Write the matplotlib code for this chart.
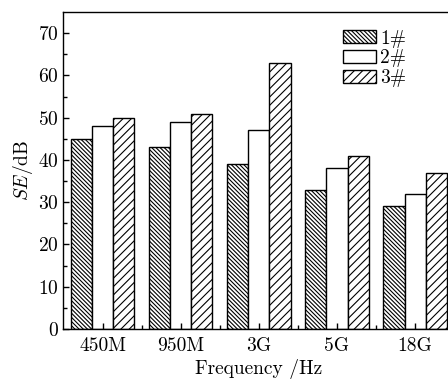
import numpy as np
import matplotlib
matplotlib.use('Agg')
import matplotlib.pyplot as plt

plt.rcParams['font.family'] = ['cmr10', 'DejaVu Serif']
plt.rcParams['mathtext.fontset'] = 'cm'
plt.rcParams['axes.formatter.use_mathtext'] = True
plt.rcParams['hatch.linewidth'] = 0.8

freqs = ['450M', '950M', '3G', '5G', '18G']
s1 = [45, 43, 39, 33, 29]
s2 = [48, 49, 47, 38, 32]
s3 = [50, 51, 63, 41, 37]

fig = plt.figure(figsize=(4.48, 3.79), dpi=100)
ax = fig.add_axes([0.1406, 0.132, 0.873, 0.836])

x = np.arange(len(freqs))
w = 0.27
ax.bar(x - w, s1, w, facecolor='white', edgecolor='black', hatch='\\' * 8, linewidth=1.0, label='1#')
ax.bar(x, s2, w, facecolor='white', edgecolor='black', linewidth=1.0, label='2#')
ax.bar(x + w, s3, w, facecolor='white', edgecolor='black', hatch='////', linewidth=1.0, label='3#')

ax.set_xlim(-0.51, 4.5)
ax.set_ylim(0, 75)
ax.set_xticks(x)
ax.set_xticklabels(freqs)
ax.set_xticks(x[:-1] + 0.5, minor=True)
ax.set_yticks(np.arange(0, 71, 10))
ax.set_yticks(np.arange(5, 75, 10), minor=True)
ax.tick_params(direction='in', labelsize=14, length=4, width=1, pad=3)
ax.tick_params(axis='x', pad=6)
ax.tick_params(which='minor', direction='in', length=3, width=1)
for sp in ax.spines.values():
    sp.set_linewidth(1.0)

ax.set_ylabel('$SE$/dB', fontsize=14, labelpad=2)
ax.set_xlabel('Frequency /Hz', fontsize=14, labelpad=3)

ax.legend(loc='upper left', bbox_to_anchor=(0.716, 0.945), frameon=False, fontsize=14,
          handlelength=1.7, handleheight=0.62, labelspacing=0.1, handletextpad=0.2,
          borderaxespad=0, borderpad=0)

fig.savefig('out.png', dpi=100)
